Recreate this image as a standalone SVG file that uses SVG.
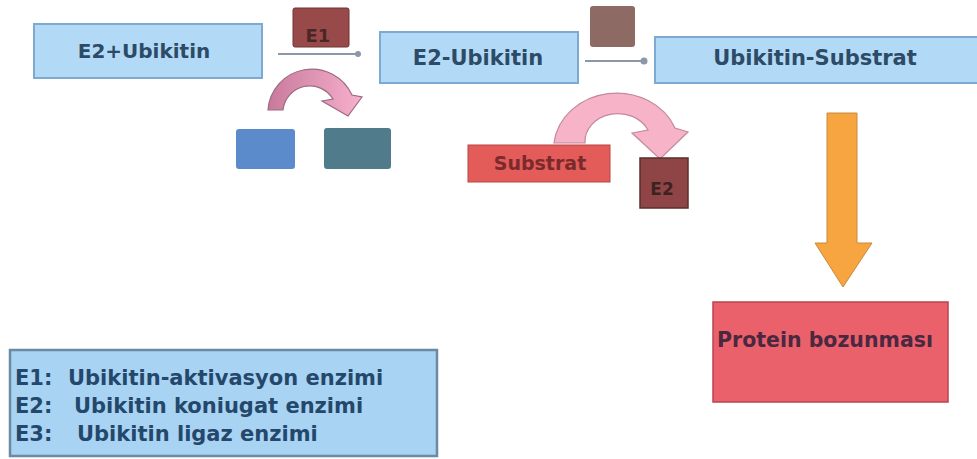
<svg xmlns="http://www.w3.org/2000/svg" width="977" height="459" viewBox="0 0 977 459">
<defs>
<style>
.lbl{font-family:"DejaVu Sans","Liberation Sans",sans-serif;font-weight:bold;}
.blue{fill:#b2daf6;stroke:#7ea9d0;stroke-width:2;}
.conn{stroke:#8a98a8;stroke-width:2;fill:none;}
.dot{fill:#8a98a8;}
</style>
<linearGradient id="pk1" x1="0" y1="0" x2="1" y2="0">
<stop offset="0" stop-color="#c97a9c"/>
<stop offset="1" stop-color="#f6b0cc"/>
</linearGradient>
</defs>
<rect width="977" height="459" fill="#ffffff"/>

<g id="connectors">
<line class="conn" x1="278" y1="54" x2="357" y2="54"/>
<circle class="dot" cx="358" cy="54" r="3"/>
<line class="conn" x1="585" y1="61" x2="643" y2="61"/>
<circle class="dot" cx="644" cy="61" r="3.5"/>
<path d="M268 110 A44 44 0 0 1 352 95 L362 97 L348 116 L322 101 L333 99 A27 27 0 0 0 283 110 Z" fill="url(#pk1)" stroke="#9a6a80" stroke-width="1.2"/>
<path d="M554 143 A63 56 0 0 1 675 128 L688 132 L660 159 L632 133 L648 130 A33 28 0 0 0 585 143 Z" fill="#f7b4c9" stroke="#c4889c" stroke-width="1.2"/>
<path d="M827 113 L857 113 L857 243 L872 243 L843 287 L815 243 L827 243 Z" fill="#f6a540" stroke="#c88a3a" stroke-width="1"/>
</g>

<g id="n-e2ubikitin">
<rect class="blue" x="34" y="24" width="228" height="54"/>
<text class="lbl" x="144" y="58" font-size="20" fill="#2d4a66" text-anchor="middle">E2+Ubikitin</text>
</g>

<g id="n-e1">
<rect x="293" y="8" width="56" height="39" rx="2" fill="#984a4a" stroke="#6e3434" stroke-width="1"/>
<text class="lbl" x="318" y="42" font-size="18" fill="#4a2626" text-anchor="middle">E1</text>
</g>

<g id="n-bluebox">
<rect x="236" y="129" width="59" height="40" rx="3" fill="#5b8bcb"/>
</g>
<g id="n-tealbox">
<rect x="324" y="128" width="67" height="41" rx="3" fill="#4f7b8b"/>
</g>

<g id="n-e2ubikitin2">
<rect class="blue" x="380" y="32" width="198" height="51"/>
<text class="lbl" x="478" y="65" font-size="21" fill="#2d4a66" text-anchor="middle">E2-Ubikitin</text>
</g>

<g id="n-topsquare">
<rect x="590" y="6" width="45" height="41" rx="3" fill="#8e6a64"/>
</g>

<g id="n-ubsubstrat">
<rect class="blue" x="655" y="37" width="323" height="46"/>
<text class="lbl" x="815" y="65" font-size="21" fill="#2d4a66" text-anchor="middle">Ubikitin-Substrat</text>
</g>

<g id="n-substrat">
<rect x="468" y="145" width="142" height="37" fill="#e35c5a" stroke="#b84444" stroke-width="1"/>
<text class="lbl" x="540" y="170" font-size="19" fill="#7a2a2a" text-anchor="middle">Substrat</text>
</g>

<g id="n-e2">
<rect x="640" y="158" width="48" height="50" fill="#8f4545" stroke="#5a2e2e" stroke-width="1.5"/>
<text class="lbl" x="662" y="195" font-size="17" fill="#3e2222" text-anchor="middle">E2</text>
</g>

<g id="n-protein">
<rect x="713" y="302" width="235" height="100" fill="#ea616c" stroke="#b84452" stroke-width="1.5"/>
<text class="lbl" x="717" y="347" font-size="20.5" fill="#4a2840">Protein bozunması</text>
</g>

<g id="n-legend">
<rect x="10" y="350" width="427" height="106" fill="#a9d3f2" stroke="#6a8aa6" stroke-width="2.5"/>
<text class="lbl" font-size="21" fill="#24486c">
<tspan x="15" y="385">E1:</tspan><tspan x="68" y="385">Ubikitin-aktivasyon enzimi</tspan>
<tspan x="15" y="413">E2:</tspan><tspan x="74" y="413">Ubikitin koniugat enzimi</tspan>
<tspan x="15" y="441">E3:</tspan><tspan x="77" y="441">Ubikitin ligaz enzimi</tspan>
</text>
</g>
</svg>
